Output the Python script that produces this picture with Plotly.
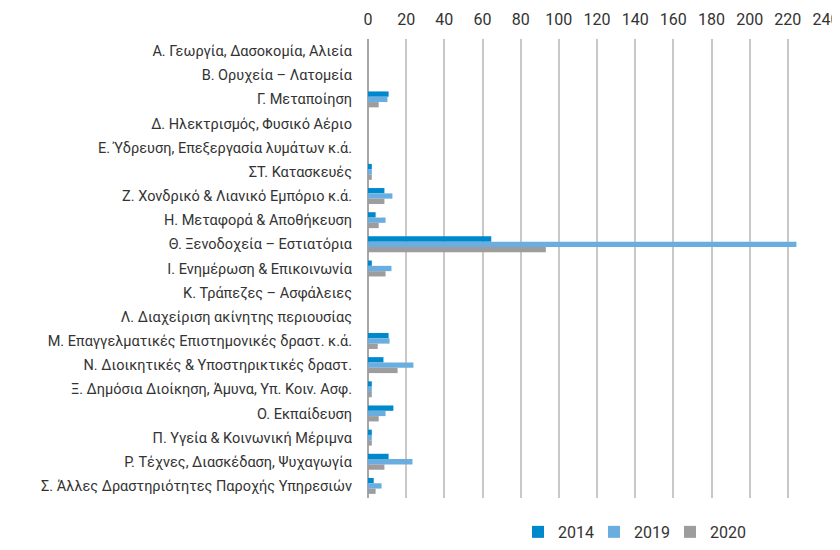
import plotly.graph_objects as go

categories = [
    "Α. Γεωργία, Δασοκομία, Αλιεία",
    "Β. Ορυχεία – Λατομεία",
    "Γ. Μεταποίηση",
    "Δ. Ηλεκτρισμός, Φυσικό Αέριο",
    "Ε. Ύδρευση, Επεξεργασία λυμάτων κ.ά.",
    "ΣΤ. Κατασκευές",
    "Ζ. Χονδρικό & Λιανικό Εμπόριο κ.ά.",
    "Η. Μεταφορά & Αποθήκευση",
    "Θ. Ξενοδοχεία – Εστιατόρια",
    "Ι. Ενημέρωση & Επικοινωνία",
    "Κ. Τράπεζες – Ασφάλειες",
    "Λ. Διαχείριση ακίνητης περιουσίας",
    "Μ. Επαγγελματικές Επιστημονικές δραστ. κ.ά.",
    "Ν. Διοικητικές & Υποστηρικτικές δραστ.",
    "Ξ. Δημόσια Διοίκηση, Άμυνα, Υπ. Κοιν. Ασφ.",
    "Ο. Εκπαίδευση",
    "Π. Υγεία & Κοινωνική Μέριμνα",
    "Ρ. Τέχνες, Διασκέδαση, Ψυχαγωγία",
    "Σ. Άλλες Δραστηριότητες Παροχής Υπηρεσιών",
]

v2014 = [0, 0, 10.8, 0, 0, 2, 8.6, 4.0, 64.6, 2, 0, 0, 10.8, 8.1, 2, 13.3, 2, 10.8, 3.0]
v2019 = [0, 0, 10.2, 0, 0, 2, 12.8, 9.2, 224.5, 12.3, 0, 0, 11.3, 23.8, 2, 9.2, 2, 23.3, 7.1]
v2020 = [0, 0, 5.6, 0, 0, 2, 8.6, 5.6, 93.2, 9.2, 0, 0, 5.1, 15.5, 2, 5.6, 2, 8.6, 4.0]

series = [("2014", v2014, "#0088CC"), ("2019", v2019, "#6AAEE0"), ("2020", v2020, "#9D9D9F")]

fig = go.Figure()
for name, vals, color in series:
    fig.add_trace(go.Bar(
        y=categories, x=vals, name=name, orientation="h",
        marker=dict(color=color, line=dict(width=0)),
    ))

font_family = "Roboto, Open Sans, sans-serif"
fig.update_layout(
    width=832, height=534,
    barmode="group", bargap=0.34, bargroupgap=0,
    plot_bgcolor="white", paper_bgcolor="white",
    margin=dict(l=360, r=14, t=31, b=44, autoexpand=False),
    font=dict(family=font_family, color="#333333"),
    xaxis=dict(
        side="top", range=[0, 240], dtick=20, tick0=0,
        showgrid=True, gridcolor="#C8C8C8", gridwidth=1.5,
        zeroline=True, zerolinecolor="#A6A6A6", zerolinewidth=2,
        showline=False, ticks="", automargin=False,
        tickfont=dict(size=16, color="#333333"),
        ticklabelstandoff=10, ticklabeloverflow="allow",
    ),
    yaxis=dict(
        autorange="reversed", type="category", automargin=False,
        showgrid=False, showline=False, ticks="",
        tickfont=dict(size=14.5, color="#333333"),
        ticklabelstandoff=15,
    ),
    legend=dict(
        orientation="h", x=(510 - 360) / 458, xanchor="left", y=-0.074, yanchor="middle",
        font=dict(size=16, color="#333333"), traceorder="normal",
        entrywidth=31, entrywidthmode="pixels",
    ),
)

fig.write_html("out.html")
